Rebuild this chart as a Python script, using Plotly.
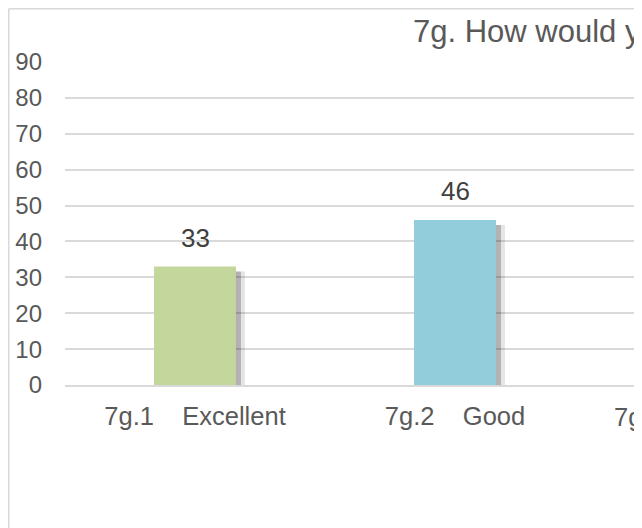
import plotly.graph_objects as go

# ---- data ----
categories = ["7g.1    Excellent", "7g.2    Good"]
values = [33, 46]
bar_colors = ["#C3D69B", "#92CDDC"]
next_category_label = "7g.3    Satisfactory"
title_text = "7g. How would you rate the overall service?"
y_ticks = [0, 10, 20, 30, 40, 50, 60, 70, 80, 90]

FONT = "Arial, Liberation Sans, sans-serif"
W, H = 642, 528
ML, MR, MT, MB = 57, 0, 54, 151
px_per_cat = 260.0
plot_w = W - ML - MR
plot_h = H - MT - MB
x_range = [-0.5, -0.5 + plot_w / px_per_cat]
bar_w = 0.315

fig = go.Figure()

# soft shadows behind bars
for dx, alpha in [(9, 0.10), (5, 0.22)]:
    fig.add_trace(go.Bar(
        x=categories, y=[v - 0.6 for v in values], base=-0.8,
        width=bar_w, offset=-bar_w / 2 + dx / px_per_cat,
        marker=dict(color=f"rgba(0,0,0,{alpha})", line=dict(width=0)),
        hoverinfo="skip", showlegend=False,
    ))

fig.add_trace(go.Bar(
    x=categories, y=values, width=bar_w, offset=-bar_w / 2,
    marker=dict(color=bar_colors, line=dict(width=0)),
    showlegend=False,
))

# data labels
for c, v in zip(categories, values):
    fig.add_annotation(x=c, y=v, text=str(v), showarrow=False,
                       yanchor="bottom", yshift=12,
                       font=dict(family=FONT, size=26, color="#404040"))

# partially visible next category label (beyond the visible range)
fig.add_annotation(xref="paper", yref="paper",
                   x=(2 - x_range[0]) / (x_range[1] - x_range[0]), y=0,
                   yshift=-32, xshift=4, text=next_category_label,
                   showarrow=False, xanchor="center", yanchor="middle",
                   font=dict(family=FONT, size=25.5, color="#595959"))

# outer chart frame
fx = (0.75 - ML) / plot_w
fy = 1 + (MT - 0.75) / plot_h
fig.add_shape(type="line", xref="paper", yref="paper",
              x0=fx, x1=fx, y0=-0.6, y1=fy,
              line=dict(color="#D9D9D9", width=1.5))
fig.add_shape(type="line", xref="paper", yref="paper",
              x0=fx, x1=1.2, y0=fy, y1=fy,
              line=dict(color="#D9D9D9", width=1.5))

fig.update_layout(
    width=W, height=H,
    margin=dict(l=ML, r=MR, t=MT, b=MB),
    paper_bgcolor="white", plot_bgcolor="white",
    barmode="overlay",
    font=dict(family=FONT, color="#595959"),
    title=dict(text=title_text, xref="container", yref="container",
               x=405 / W, xanchor="left", y=1 - 23 / H, yanchor="middle",
               font=dict(family=FONT, size=31, color="#595959")),
    xaxis=dict(type="category", range=x_range, showgrid=False,
               showline=True, linecolor="#D9D9D9", linewidth=1.5,
               ticks="", tickfont=dict(size=25.5, color="#595959"),
               ticklabelstandoff=8, fixedrange=True),
    yaxis=dict(range=[0, 90], tickvals=y_ticks, showgrid=True,
               gridcolor="#D9D9D9", gridwidth=1.5, zeroline=False,
               showline=False, ticks="",
               tickfont=dict(size=24, color="#595959"),
               ticklabelstandoff=22, fixedrange=True),
)

fig.write_html("out.html")
